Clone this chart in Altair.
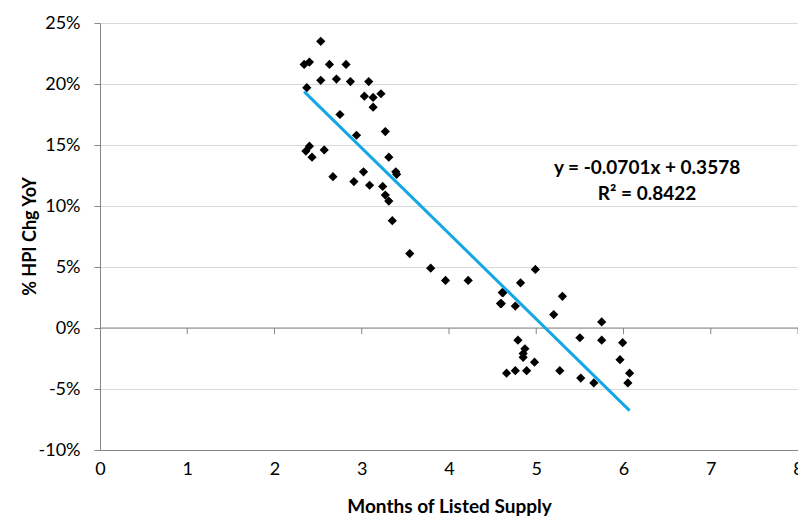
import altair as alt
import pandas as pd

# Months of listed supply (x) and % HPI change YoY (y)
months = [2.53, 2.34, 2.40, 2.63, 2.82, 2.53, 2.71, 2.87, 3.08, 2.37,
          3.03, 3.13, 3.22, 3.13, 2.75, 2.94, 3.27, 2.40, 2.36, 2.43,
          2.57, 3.31, 2.67, 3.02, 2.91, 3.09, 3.39, 3.40, 3.24, 3.27,
          3.31, 3.35, 3.55, 3.79, 3.96, 4.22, 4.61, 4.59, 4.99, 4.82,
          4.62, 4.60, 4.76, 5.30, 5.20, 5.75, 4.79, 4.87, 4.85, 4.85,
          4.98, 4.66, 4.76, 4.89, 5.50, 5.75, 5.99, 5.96, 6.07, 6.05,
          5.27, 5.51, 5.66]
hpi = [0.235, 0.216, 0.218, 0.216, 0.216, 0.203, 0.204, 0.202, 0.202, 0.197,
       0.190, 0.189, 0.192, 0.181, 0.175, 0.158, 0.161, 0.149, 0.145, 0.140,
       0.146, 0.140, 0.124, 0.128, 0.120, 0.117, 0.128, 0.126, 0.116, 0.109,
       0.104, 0.088, 0.061, 0.049, 0.039, 0.039, 0.029, 0.020, 0.048, 0.037,
       0.029, 0.020, 0.018, 0.026, 0.011, 0.005, -0.010, -0.017, -0.021, -0.024,
       -0.028, -0.037, -0.035, -0.035, -0.008, -0.010, -0.012, -0.026, -0.037, -0.045,
       -0.035, -0.041, -0.045]

slope = -0.0701
intercept = 0.3578
r2 = 0.8422

x_ticks = [0, 1, 2, 3, 4, 5, 6, 7, 8]
y_ticks = [-0.10, -0.05, 0.0, 0.05, 0.10, 0.15, 0.20, 0.25]

FONT = "Lato"
FS = 18
TFS = 19

pts = pd.DataFrame({"months": months, "hpi": hpi})
xmin, xmax = min(months), max(months)
fit = pd.DataFrame({"months": [xmin, xmax],
                    "hpi": [slope * xmin + intercept, slope * xmax + intercept]})
zero = pd.DataFrame({"months": [0, 8], "hpi": [0.0, 0.0]})
xt = pd.DataFrame({"months": x_ticks[1:],
                   "hpi": [0.0] * (len(x_ticks) - 1),
                   "hpi2": [-0.005] * (len(x_ticks) - 1)})
ann = pd.DataFrame({
    "months": [6.27, 6.27],
    "hpi": [0.131, 0.110],
    "label": [f"y = {slope:.4f}x + {intercept:.4f}", f"R² = {r2:.4f}"],
})

xscale = alt.Scale(domain=[0, 8], nice=False, zero=False)
yscale = alt.Scale(domain=[-0.10, 0.25], nice=False, zero=False)

xenc = alt.X("months:Q", scale=xscale, axis=alt.Axis(
    values=x_ticks, format="d", title="Months of Listed Supply", grid=False,
    ticks=False, domain=True, domainColor="#868686", labelPadding=10,
    labelFontSize=FS, labelFont=FONT, labelColor="#000000",
    titleFont=FONT, titleFontSize=TFS, titleFontWeight="bold", titleColor="#000000",
    titleY=47, titleBaseline="top", labelFlush=False))
yenc = alt.Y("hpi:Q", scale=yscale, axis=alt.Axis(
    values=y_ticks, title="% HPI Chg YoY", grid=True, gridColor="#D9D9D9",
    domainColor="#868686", tickColor="#868686", tickSize=6, labelPadding=14,
    labelExpr="round(datum.value*100) + '%'",
    labelFontSize=FS, labelFont=FONT, labelColor="#000000",
    titleFont=FONT, titleFontSize=TFS - 1, titleFontWeight="bold", titleColor="#000000",
    titleX=-70, titleY=213, titleAngle=-90, titleAlign="center",
    titleBaseline="middle", labelFlush=False))

zero_line = alt.Chart(zero).mark_line(color="#868686", strokeWidth=1).encode(
    x=alt.X("months:Q", scale=xscale), y=alt.Y("hpi:Q", scale=yscale))

ticks = alt.Chart(xt).mark_rule(color="#868686", strokeWidth=1).encode(
    x=alt.X("months:Q", scale=xscale),
    y=alt.Y("hpi:Q", scale=yscale), y2="hpi2:Q")

points = alt.Chart(pts).mark_point(shape="diamond", filled=True, color="#000000",
                                   size=85, opacity=1).encode(x=xenc, y=yenc)

line = alt.Chart(fit).mark_line(color="#14A7E4", strokeWidth=3).encode(
    x=alt.X("months:Q", scale=xscale), y=alt.Y("hpi:Q", scale=yscale))

text = alt.Chart(ann).mark_text(font=FONT, fontSize=FS + 1, fontWeight="bold",
                                color="#000000", align="center",
                                baseline="middle").encode(
    x=alt.X("months:Q", scale=xscale), y=alt.Y("hpi:Q", scale=yscale),
    text="label:N")

chart = alt.layer(points, zero_line, ticks, line, text).properties(
    width=698, height=427,
    autosize=alt.AutoSizeParams(type="none"),
    padding={"left": 92, "top": 15, "right": 0, "bottom": 68},
).configure_view(stroke=None).configure(background="#ffffff")

chart.save("out.html", embed_options={"renderer": "svg", "actions": False})
